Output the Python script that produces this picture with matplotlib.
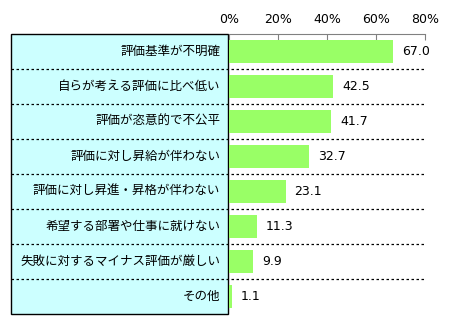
import matplotlib
matplotlib.use('Agg')
import matplotlib.pyplot as plt
from matplotlib.patches import Rectangle

plt.rcParams['font.family'] = ['Noto Sans CJK JP', 'DejaVu Sans']

categories = ['評価基準が不明確', '自らが考える評価に比べ低い', '評価が恣意的で不公平',
              '評価に対し昇給が伴わない', '評価に対し昇進・昇格が伴わない',
              '希望する部署や仕事に就けない', '失敗に対するマイナス評価が厳しい', 'その他']
values = [67.0, 42.5, 41.7, 32.7, 23.1, 11.3, 9.9, 1.1]
xticks = [0, 20, 40, 60, 80]
xtick_labels = ['0%', '20%', '40%', '60%', '80%']

W, H = 453, 324
fig = plt.figure(figsize=(W / 100, H / 100), dpi=100)
# axes spans the label box (negative x) and the bar area (0..80)
ax = fig.add_axes([11 / W, 1 - 314 / H, 414 / W, 280 / H])
box_left = -89
ax.set_xlim(box_left, 80)
n = len(categories)
ax.set_ylim(n - 0.5, -0.5)

# label box
ax.add_patch(Rectangle((box_left, -0.5), -box_left - 0.4, n, facecolor='#ccffff',
                       edgecolor='black', linewidth=1.0, zorder=1, clip_on=False))

ypos = list(range(n))
ax.barh(ypos, values, height=0.66, color='#99ff66', zorder=2)

# dashed row separators
for k in range(1, n):
    ax.plot([box_left, 80], [k - 0.5, k - 0.5], color='black', linestyle=(0, (2, 2)),
            linewidth=0.9, zorder=3)

for y, cat, v in zip(ypos, categories, values):
    ax.text(-3.6, y, cat, ha='right', va='center', fontsize=9, zorder=4)
    ax.text(v + 3.6, y, f'{v:.1f}', ha='left', va='center', fontsize=9,
            family=['DejaVu Sans'], zorder=4)

for s in ['bottom', 'left', 'right']:
    ax.spines[s].set_visible(False)
ax.spines['top'].set_bounds(0, 80)
ax.spines['top'].set_color('#808080')
ax.xaxis.tick_top()
ax.set_xticks(xticks)
ax.set_xticklabels(xtick_labels, fontsize=9, family=['DejaVu Sans'])
ax.tick_params(axis='x', direction='in', length=4, color='#808080', pad=6)
ax.set_yticks([])

fig.savefig('out.png', dpi=100)
